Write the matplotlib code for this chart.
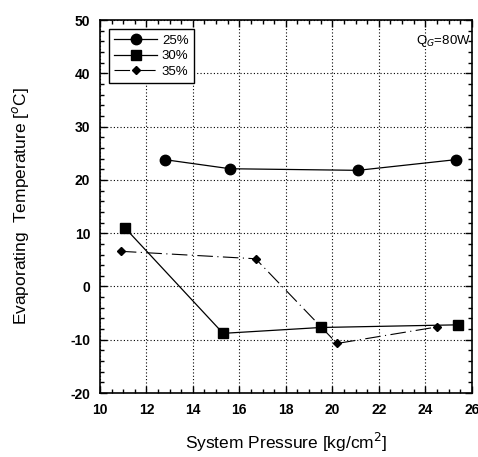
import matplotlib
matplotlib.use('Agg')
import matplotlib.pyplot as plt
from matplotlib.ticker import MultipleLocator

plt.rcParams['font.family'] = ['Liberation Sans', 'DejaVu Sans']
plt.rcParams['axes.unicode_minus'] = False

# datos
p25 = [12.8, 15.6, 21.1, 25.3]
t25 = [23.8, 22.1, 21.8, 23.8]
p30 = [11.1, 15.3, 19.5, 25.4]
t30 = [10.9, -8.8, -7.7, -7.2]
p35 = [10.9, 16.7, 20.2, 24.5]
t35 = [6.6, 5.2, -10.7, -7.6]

fig = plt.figure(figsize=(4.78, 4.57), dpi=100)
ax = fig.add_axes([0.209, 0.140, 0.778, 0.816])

ax.plot(p25, t25, '-', color='black', lw=0.9, marker='o', ms=7.5, label='25%')
ax.plot(p30, t30, '-', color='black', lw=0.9, marker='s', ms=7.5, label='30%')
ax.plot(p35, t35, color='black', lw=0.8, marker='D', ms=4.5,
        linestyle=(0, (14, 4, 1, 4)), label='35%')

ax.set_xlim(10, 26)
ax.set_ylim(-20, 50)
ax.xaxis.set_major_locator(MultipleLocator(2))
ax.xaxis.set_minor_locator(MultipleLocator(0.5))
ax.yaxis.set_major_locator(MultipleLocator(10))
ax.yaxis.set_minor_locator(MultipleLocator(2))
ax.tick_params(which='both', direction='in', top=True, right=True, width=1)
ax.tick_params(which='major', length=5, labelsize=10, pad=7)
ax.tick_params(which='minor', length=3)
for lab in ax.get_xticklabels() + ax.get_yticklabels():
    lab.set_fontweight('bold')
for s in ax.spines.values():
    s.set_linewidth(1.2)

ax.grid(True, which='major', linestyle=(0, (1, 2)), color='black', lw=0.8)

ax.set_xlabel('System Pressure [kg/cm$^2$]', fontsize=12.5, labelpad=10)
ax.set_ylabel('Evaporating  Temperature [$^o$C]', fontsize=12.5, labelpad=28)

ax.text(23.6, 45.5, r'Q$_G$=80W', fontsize=9.5)

leg = ax.legend(loc='upper left', fontsize=9.5, frameon=True, fancybox=False,
                edgecolor='black', framealpha=1, handlelength=3.2,
                borderaxespad=0.7, labelspacing=0.25, handletextpad=0.4)
leg.get_frame().set_linewidth(1.0)

fig.savefig('out.png', dpi=100)
